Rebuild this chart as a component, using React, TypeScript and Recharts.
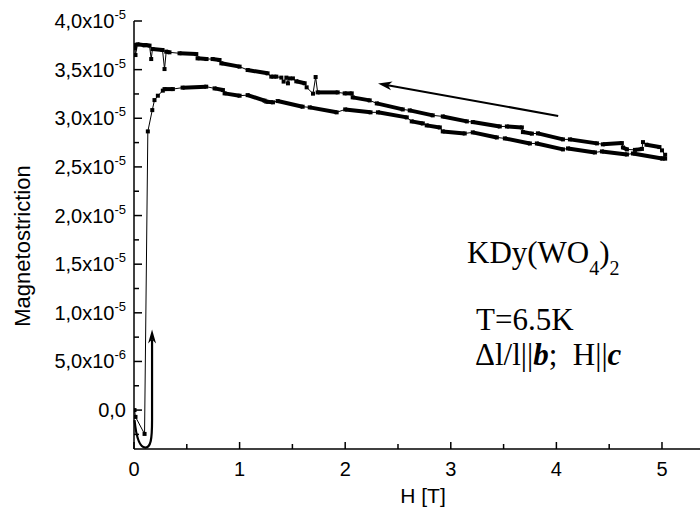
import React from 'react';
import { LineChart, Line, XAxis, YAxis, ReferenceLine } from 'recharts';

// Magnetostriction in units of 1e-5 vs field H [T].
// Each entry: a single reading [H, V] or a flat run of readings [H0, V0, H1, V1].
const increasingRuns: number[][] = [
  [0.005, 0.0],
  [0.014, -0.07],
  [0.1, -0.245],
  [0.131, 2.865],
  [0.173, 3.084],
  [0.194, 3.187],
  [0.226, 3.232],
  [0.273, 3.284],
  [0.289, 3.3, 0.368, 3.3],
  [0.46, 3.315, 0.684, 3.325],
  [0.763, 3.307, 0.842, 3.29],
  [0.858, 3.256, 1.0, 3.232],
  [1.076, 3.238, 1.237, 3.181],
  [1.253, 3.171, 1.316, 3.164],
  [1.36, 3.177, 1.597, 3.119],
  [1.664, 3.112, 1.919, 3.061],
  [2.0, 3.091, 2.24, 3.061],
  [2.31, 3.061, 2.583, 3.009],
  [2.63, 2.968, 2.735, 2.947],
  [2.772, 2.927, 2.896, 2.906],
  [2.924, 2.865, 3.132, 2.844],
  [3.208, 2.855, 3.436, 2.803],
  [3.512, 2.793, 3.749, 2.741],
  [3.815, 2.741, 4.062, 2.68],
  [4.11, 2.69, 4.365, 2.649],
  [4.431, 2.659, 4.668, 2.628],
  [4.725, 2.638, 5.0, 2.587],
  [5.01, 2.587],
];

const decreasingRuns: number[][] = [
  [5.03, 2.585],
  [5.03, 2.625],
  [5.0, 2.67],
  [4.976, 2.704, 4.853, 2.728],
  [4.82, 2.755],
  [4.81, 2.685, 4.744, 2.675],
  [4.668, 2.68, 4.63, 2.7],
  [4.62, 2.745, 4.44, 2.732],
  [4.384, 2.742, 4.128, 2.783],
  [4.062, 2.783, 3.825, 2.845],
  [3.768, 2.842, 3.683, 2.858],
  [3.673, 2.906, 3.531, 2.916],
  [3.464, 2.916, 3.208, 2.961],
  [3.152, 2.968, 2.924, 3.019],
  [2.829, 3.03, 2.611, 3.081],
  [2.545, 3.091, 2.299, 3.153],
  [2.232, 3.184, 2.071, 3.215],
  [2.062, 3.256, 1.995, 3.256],
  [1.929, 3.266, 1.739, 3.266],
  [1.72, 3.424],
  [1.695, 3.253],
  [1.635, 3.318],
  [1.616, 3.36, 1.537, 3.38],
  [1.505, 3.41],
  [1.474, 3.41],
  [1.458, 3.359],
  [1.443, 3.418],
  [1.417, 3.377],
  [1.395, 3.418],
  [1.348, 3.428, 1.3, 3.428],
  [1.265, 3.462, 1.076, 3.496],
  [1.0, 3.531, 0.827, 3.565],
  [0.81, 3.599, 0.744, 3.609],
  [0.687, 3.609, 0.602, 3.616],
  [0.59, 3.66, 0.431, 3.668],
  [0.336, 3.678, 0.305, 3.685],
  [0.289, 3.506],
  [0.27, 3.702, 0.175, 3.712],
  [0.163, 3.609],
  [0.147, 3.747, 0.109, 3.753],
  [0.1, 3.75, 0.033, 3.76],
  [0.014, 3.65],
  [0.01, 3.72],
  [0.005, 3.753],
];

const xTicks = [0, 0.5, 1, 1.5, 2, 2.5, 3, 3.5, 4, 4.5, 5];
const xMajorValues = [0, 1, 2, 3, 4, 5];
const xTickLabels = ['0', '1', '2', '3', '4', '5'];

const yTicks = [-0.25, 0, 0.25, 0.5, 0.75, 1, 1.25, 1.5, 1.75, 2, 2.25, 2.5, 2.75, 3, 3.25, 3.5, 3.75, 4];
const yMajorValues = [0, 0.5, 1, 1.5, 2, 2.5, 3, 3.5, 4];
const yMajorMantissa = ['0,0', '5,0x10', '1,0x10', '1,5x10', '2,0x10', '2,5x10', '3,0x10', '3,5x10', '4,0x10'];
const yMajorExp = ['', '-6', '-5', '-5', '-5', '-5', '-5', '-5', '-5'];

// Annotation arrows in data coordinates [H, V]
const longArrowTail = [4.017, 3.024];
const longArrowTip = [2.311, 3.358];
const sweepArrowStart = [0.005, -0.103];
const sweepArrowTip = [0.171, 0.829];

const toPoints = (runs: number[][]) =>
  runs.flatMap((r) => (r.length === 4 ? [{ h: r[0], v: r[1] }, { h: r[2], v: r[3] }] : [{ h: r[0], v: r[1] }]));
const toSegments = (runs: number[][]) => runs.filter((r) => r.length === 4);

const incPoints = toPoints(increasingRuns);
const decPoints = toPoints(decreasingRuns);
const allSegments = [...toSegments(increasingRuns), ...toSegments(decreasingRuns)];

const SANS = '"Liberation Sans", Arial, sans-serif';
const SERIF = '"Liberation Serif", "Times New Roman", serif';

const Square = (p: any) => {
  if (p.cx == null || p.cy == null) return <g key={p.key} />;
  return <rect key={p.key ?? `${p.index}`} x={p.cx - 2} y={p.cy - 2} width={4} height={4} fill="#000" />;
};

const YTick = (p: any) => {
  const { x, y, payload } = p;
  const v = payload.value;
  const i = yMajorValues.findIndex((m) => Math.abs(m - v) < 1e-9);
  const major = i >= 0;
  return (
    <g>
      <line x1={x} y1={y} x2={x + (major ? 8 : 5)} y2={y} stroke="#000" strokeWidth={1.5} />
      {major && (
        <text x={x - 8} y={y + 7} textAnchor="end" fontSize={20} fontFamily={SANS} fill="#000">
          {yMajorMantissa[i]}
          {yMajorExp[i] && (
            <tspan fontSize={13} dy={-9}>
              {yMajorExp[i]}
            </tspan>
          )}
        </text>
      )}
    </g>
  );
};

const XTick = (p: any) => {
  const { x, y, payload } = p;
  const v = payload.value;
  const i = xMajorValues.findIndex((m) => Math.abs(m - v) < 1e-9);
  const major = i >= 0;
  return (
    <g>
      <line x1={x} y1={y} x2={x} y2={y - (major ? 7 : 5)} stroke="#000" strokeWidth={1.5} />
      {major && (
        <text x={x} y={y + 27} textAnchor="middle" fontSize={20} fontFamily={SANS} fill="#000">
          {xTickLabels[i]}
        </text>
      )}
    </g>
  );
};

const TopTick = (p: any) => {
  const { x, y, payload } = p;
  const major = xMajorValues.some((m) => Math.abs(m - payload.value) < 1e-9);
  return <line x1={x} y1={y} x2={x} y2={y + (major ? 5 : 3)} stroke="#000" strokeWidth={1.5} />;
};

const LongArrowShape = (p: any) => {
  const { x1, y1, x2, y2 } = p;
  const dx = x2 - x1;
  const dy = y2 - y1;
  const len = Math.hypot(dx, dy) || 1;
  const ux = dx / len;
  const uy = dy / len;
  const nx = -uy;
  const ny = ux;
  const L = 14;
  const W = 4.5;
  const bx = x2 - ux * L;
  const by = y2 - uy * L;
  const pts = `${x2},${y2} ${bx + nx * W},${by + ny * W} ${x2 - ux * L * 0.72},${y2 - uy * L * 0.72} ${bx - nx * W},${by - ny * W}`;
  return (
    <g>
      <line x1={x1} y1={y1} x2={x2 - ux * L * 0.7} y2={y2 - uy * L * 0.7} stroke="#000" strokeWidth={2} />
      <polygon points={pts} fill="#000" />
    </g>
  );
};

const SweepArrowShape = (p: any) => {
  const { x1, y1, x2, y2 } = p;
  const by = y1 + 27.5;
  const d = `M${x1},${y1} C${x1 + 2},${y1 + 20} ${x1 + 6},${by} ${x1 + 11},${by} C${x2 - 1.5},${by} ${x2},${y1 + 20} ${x2},${y1} L${x2},${y2 + 10}`;
  const pts = `${x2},${y2} ${x2 - 4},${y2 + 14} ${x2},${y2 + 10} ${x2 + 4},${y2 + 14}`;
  return (
    <g>
      <path d={d} fill="none" stroke="#000" strokeWidth={2.2} />
      <polygon points={pts} fill="#000" />
    </g>
  );
};

export default function App() {
  return (
    <div style={{ position: 'absolute', left: 0, top: 0, width: 700, height: 518, background: '#fff' }}>
      <LineChart width={700} height={518} margin={{ top: 21, right: 0, bottom: 0, left: 0 }}>
        <XAxis
          dataKey="h"
          type="number"
          domain={[0, 5.36]}
          allowDataOverflow
          ticks={xTicks}
          interval={0}
          tick={<XTick />}
          tickLine={false}
          tickSize={0}
          tickMargin={0}
          height={69}
          axisLine={{ stroke: '#000', strokeWidth: 1.5 }}
        />
        <XAxis
          xAxisId="top"
          orientation="top"
          dataKey="h"
          type="number"
          domain={[0, 5.36]}
          allowDataOverflow
          ticks={xTicks}
          interval={0}
          tick={<TopTick />}
          tickLine={false}
          tickSize={0}
          tickMargin={0}
          height={0}
          axisLine={{ stroke: '#000', strokeWidth: 1.5 }}
        />
        <YAxis
          type="number"
          domain={[-0.4, 4.0]}
          allowDataOverflow
          ticks={yTicks}
          interval={0}
          tick={<YTick />}
          tickLine={false}
          tickSize={0}
          tickMargin={0}
          width={134}
          axisLine={{ stroke: '#000', strokeWidth: 1.5 }}
        />
        {allSegments.map((s, i) => (
          <ReferenceLine
            key={`seg${i}`}
            segment={[
              { x: s[0], y: s[1] },
              { x: s[2], y: s[3] },
            ]}
            stroke="#000"
            strokeWidth={4}
            ifOverflow="visible"
          />
        ))}
        <Line
          data={incPoints}
          dataKey="v"
          stroke="#000"
          strokeWidth={1}
          dot={Square}
          activeDot={false}
          isAnimationActive={false}
        />
        <Line
          data={decPoints}
          dataKey="v"
          stroke="#000"
          strokeWidth={1}
          dot={Square}
          activeDot={false}
          isAnimationActive={false}
        />
        <ReferenceLine
          segment={[
            { x: longArrowTail[0], y: longArrowTail[1] },
            { x: longArrowTip[0], y: longArrowTip[1] },
          ]}
          ifOverflow="visible"
          shape={LongArrowShape}
        />
        <ReferenceLine
          segment={[
            { x: sweepArrowStart[0], y: sweepArrowStart[1] },
            { x: sweepArrowTip[0], y: sweepArrowTip[1] },
          ]}
          ifOverflow="visible"
          shape={SweepArrowShape}
        />
      </LineChart>
      <svg
        width={700}
        height={518}
        style={{ position: 'absolute', left: 0, top: 0, pointerEvents: 'none' }}
      >
        <text
          x={22}
          y={246}
          transform="rotate(-90 22 246)"
          textAnchor="middle"
          dominantBaseline="central"
          fontSize={22}
          fontFamily={SANS}
          fill="#000"
        >
          Magnetostriction
        </text>
        <text x={423} y={503} textAnchor="middle" fontSize={21} fontFamily={SANS} fill="#000">
          H [T]
        </text>
        <text x={467} y={263} fontSize={31} fontFamily={SERIF} fill="#000">
          KDy(WO
          <tspan fontSize={20} dy={12}>4</tspan>
          <tspan fontSize={31} dy={-12}>)</tspan>
          <tspan fontSize={20} dy={12}>2</tspan>
        </text>
        <text x={476} y={330} fontSize={31} fontFamily={SERIF} fill="#000">
          T=6.5K
        </text>
        <text x={475} y={365} fontSize={31} fontFamily={SERIF} fill="#000" style={{ whiteSpace: 'pre' }}>
          {'Δl/l||'}
          <tspan fontWeight="bold" fontStyle="italic">b</tspan>
          {';  H||'}
          <tspan fontWeight="bold" fontStyle="italic">c</tspan>
        </text>
      </svg>
    </div>
  );
}
